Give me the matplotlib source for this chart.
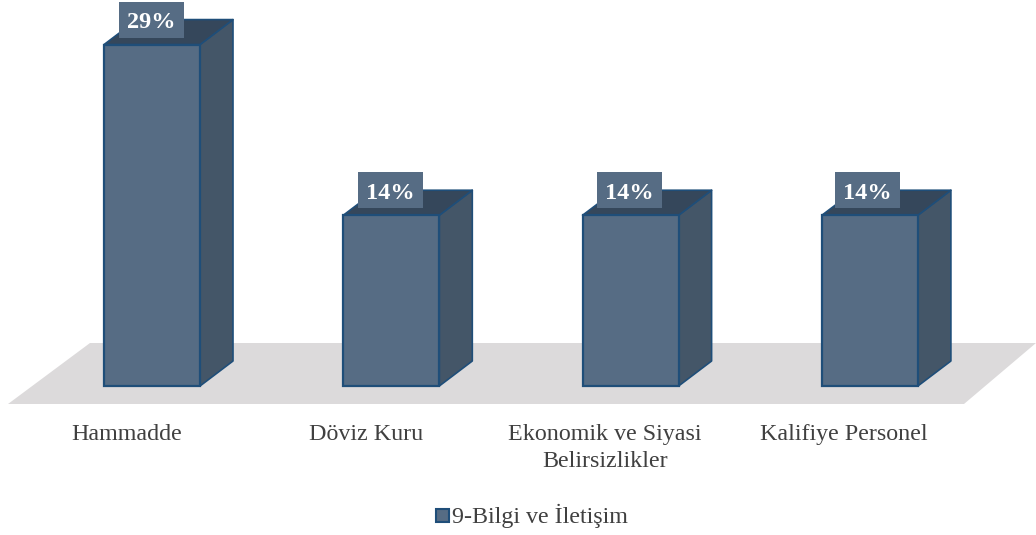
import matplotlib
matplotlib.use("Agg")
import matplotlib.pyplot as plt
from matplotlib.patches import Polygon, Rectangle

categories = ["Hammadde", "Döviz Kuru", "Ekonomik ve Siyasi\nBelirsizlikler", "Kalifiye Personel"]
values = [28.57, 14.29, 14.29, 14.29]
labels = ["29%", "14%", "14%", "14%"]
series_name = "9-Bilgi ve İletişim"

W, H = 1036, 535
FRONT, SIDE, TOP, EDGE = "#566c84", "#445668", "#35475b", "#1f4e79"
FLOOR = "#dcdadb"
TXT = "#404040"
SERIF = "Liberation Serif"

PX_X = 239.3          # pixels per category
PX_Y = 11.95          # pixels per percent
X0, Y0 = 152, 386     # first category centre, zero line (pixels)
DX, DY = 33 / PX_X, 25 / PX_Y   # depth in data units
BW = 96 / PX_X        # bar width

fig = plt.figure(figsize=(W / 100, H / 100), dpi=100)
ax = fig.add_axes([0, 0, 1, 1])
ax.set_xlim(-X0 / PX_X, (W - X0) / PX_X)
ax.set_ylim(-(H - Y0) / PX_Y, Y0 / PX_Y)
ax.axis("off")


def px(x, y):
    return ((x - X0) / PX_X, (Y0 - y) / PX_Y)


ax.add_patch(Polygon([px(8, 404), px(964, 404), px(1036, 343), px(90, 343)],
                     closed=True, fc=FLOOR, ec="none", zorder=1))

for i, (c, v, l) in enumerate(zip(categories, values, labels)):
    x0, x1 = i - BW / 2, i + BW / 2
    ax.add_patch(Polygon([(x1, 0), (x1 + DX, DY), (x1 + DX, v + DY), (x1, v)],
                         closed=True, fc=SIDE, ec=EDGE, lw=1.2, joinstyle="round", zorder=2))
    ax.add_patch(Polygon([(x0, v), (x1, v), (x1 + DX, v + DY), (x0 + DX, v + DY)],
                         closed=True, fc=TOP, ec=EDGE, lw=1.2, joinstyle="round", zorder=2))
    ax.add_patch(Rectangle((x0, 0), BW, v, fc=FRONT, ec=EDGE, lw=1.6, zorder=3))

    # data label: box 65x36 px, 7 px above the bar's front top edge
    label_x = i * 238.7 / PX_X - 0.3 / PX_X
    box_bottom = v + 7 / PX_Y
    ax.add_patch(Rectangle((label_x - 32.5 / PX_X, box_bottom), 65 / PX_X, 36 / PX_Y,
                           fc=FRONT, ec="none", zorder=4))
    ax.text(label_x, box_bottom + 15 / PX_Y, l, ha="center", va="center",
            family=SERIF, weight="bold", color="white", fontsize=17.5, zorder=5)

    # category label
    ax.text((127 - X0 + i * 238.8) / PX_X, -38 / PX_Y, c, ha="center", va="top",
            linespacing=1.4, family=SERIF, color=TXT, fontsize=17.3, zorder=5)

# legend
ax.add_patch(Rectangle(((436 - X0) / PX_X, (Y0 - 522) / PX_Y), 13 / PX_X, 13 / PX_Y,
                       fc=FRONT, ec=EDGE, lw=1.5, zorder=5))
ax.text((452 - X0) / PX_X, (Y0 - 516) / PX_Y, series_name, ha="left", va="center",
        family=SERIF, color=TXT, fontsize=17.3)

fig.savefig("out.png", dpi=100, facecolor="white")
